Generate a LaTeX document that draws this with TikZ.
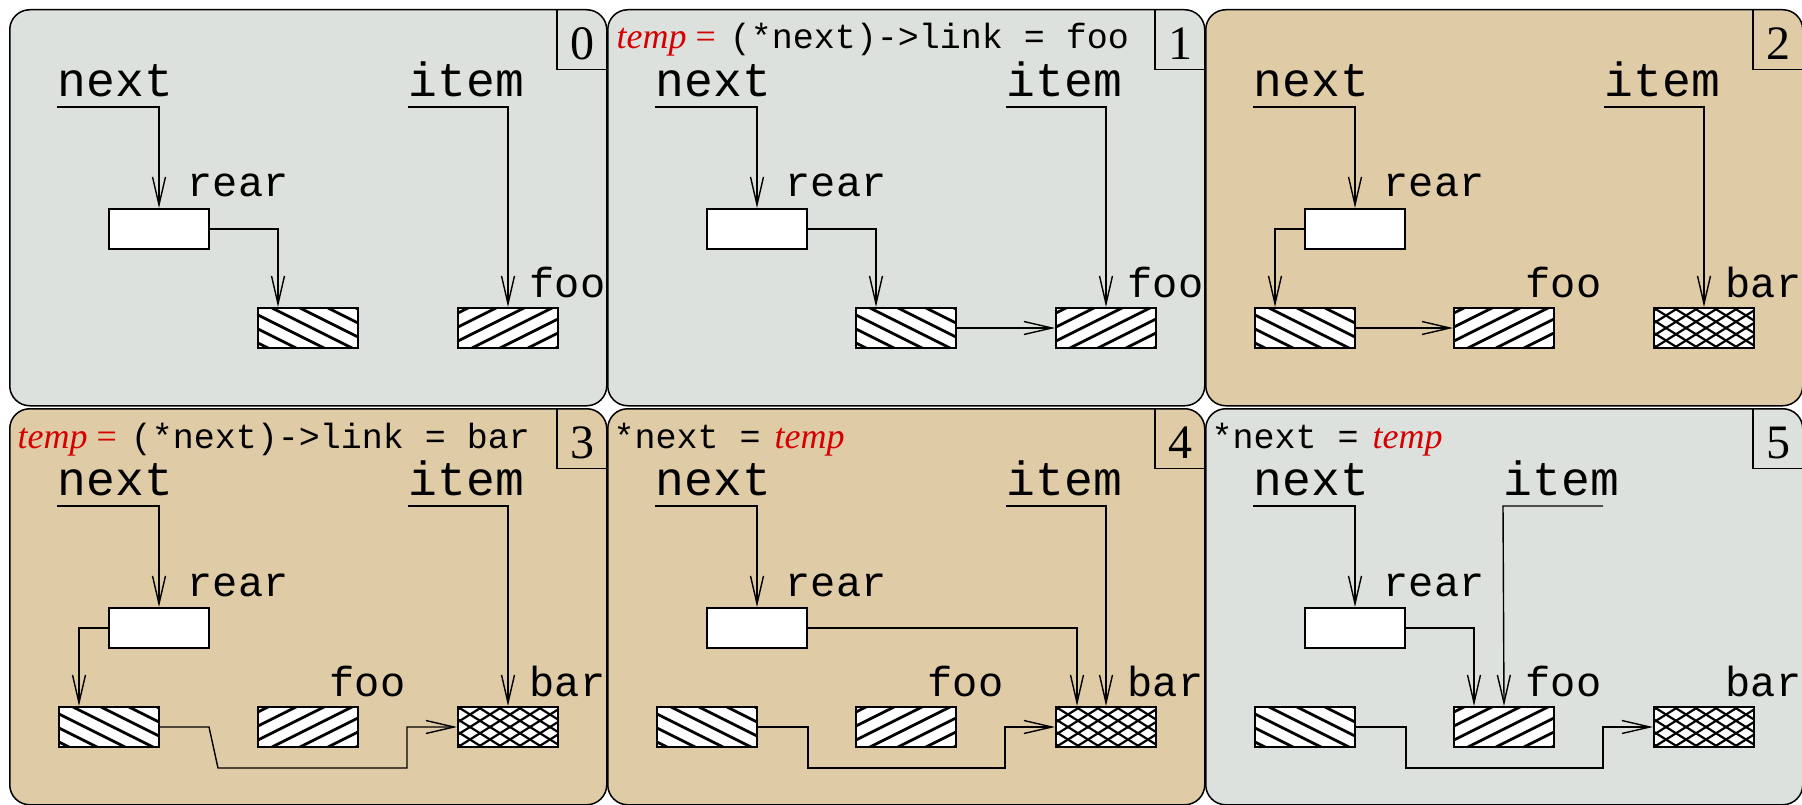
\documentclass[tikz,border=0pt]{standalone}
\usepackage{fontspec}
\setmainfont{Liberation Serif}
\setmonofont{Liberation Mono}
\usetikzlibrary{arrows.meta, positioning}

\definecolor{panelgray}{RGB}{221,225,221}
\definecolor{paneltan}{RGB}{223,203,166}
\definecolor{tempred}{RGB}{213,0,0}

\begin{document}
\begin{tikzpicture}[x=1pt, y=-1pt, >={Straight Barb[length=28pt, width=13pt]}, line width=1.4pt]
  \tikzstyle{panel}=[draw=black, line width=1.5pt, rounded corners=20pt, anchor=north west, minimum width=597pt, minimum height=396pt, inner sep=0pt]
  \tikzstyle{num}=[anchor=north east, minimum width=49pt, minimum height=59pt, inner sep=0pt, text height=41pt, text depth=0pt, font=\fontsize{48}{48}\selectfont]
  \tikzstyle{var}=[anchor=south west, inner xsep=0pt, inner ysep=9pt, font=\ttfamily\fontsize{48}{48}\selectfont]
  \tikzstyle{lbl}=[anchor=base west, inner sep=0pt, font=\ttfamily\fontsize{42}{42}\selectfont]
  \tikzstyle{code}=[anchor=base west, inner sep=0pt, font=\fontsize{35}{35}\selectfont]
  \tikzstyle{cell}=[draw=black, fill=white, line width=2pt, anchor=north west, minimum width=100pt, minimum height=40pt, inner sep=0pt]
  \tikzstyle{nwbox}=[cell, path picture={\foreach \k in {-70,-42,...,98} \draw[line width=2.8pt] ([xshift=\k pt]path picture bounding box.north west) -- ++(160pt,-80pt);}]
  \tikzstyle{nebox}=[cell, path picture={\foreach \k in {-70,-42,...,98} \draw[line width=2.8pt] ([xshift=\k pt]path picture bounding box.south west) -- ++(160pt,80pt);}]
  \tikzstyle{xbox}=[cell, path picture={\foreach \k in {-80,-60,...,100} {\draw[line width=2.2pt] ([xshift=\k pt]path picture bounding box.north west) -- ++(160pt,-100pt); \draw[line width=2.2pt] ([xshift=\k pt]path picture bounding box.south west) -- ++(160pt,100pt);}}]
  \tikzstyle{ptr}=[->, line width=1.4pt]

  \useasboundingbox (0,0) rectangle (1802,805);

  % 0
  \begin{scope}[shift={(9,9)}]
    \node[panel, fill=panelgray] (p0) at (0,0) {};
    \node[num] (n0) at (p0.north east) {0};
    \draw[line width=1.5pt] (n0.north west) |- (n0.south east);
    \node[cell] (rear0) at (99,199) {};
    \node[nwbox] (a0) at (248,298) {};
    \node[nebox] (foo0) at (448,298) {};
    \node[var] (next0) at (48,98) {next};
    \node[var] (item0) at (399,98) {item};
    \node[lbl] (rl0) at ([xshift=79pt, yshift=11pt]rear0.north west) {rear};
    \node[lbl] (fl0) at ([xshift=72pt, yshift=10pt]foo0.north west) {foo};
    \draw[ptr] (next0.south west) -| (rear0.north);
    \draw[ptr] (item0.south west) -| (foo0.north);
    \draw[ptr] (rear0.east) -| ([xshift=21pt]a0.north west);
  \end{scope}

  % 1
  \begin{scope}[shift={(607,9)}]
    \node[panel, fill=panelgray] (p1) at (0,0) {};
    \node[num] (n1) at (p1.north east) {1};
    \draw[line width=1.5pt] (n1.north west) |- (n1.south east);
    \node[code] (s1) at (9,40) {\textcolor{tempred}{\fontsize{36}{36}\selectfont\textit{temp} =}\hspace{14pt}\texttt{(*next)->link = foo}};
    \node[cell] (rear1) at (99,199) {};
    \node[nwbox] (a1) at (248,298) {};
    \node[nebox] (foo1) at (448,298) {};
    \node[var] (next1) at (48,98) {next};
    \node[var] (item1) at (399,98) {item};
    \node[lbl] (rl1) at ([xshift=79pt, yshift=11pt]rear1.north west) {rear};
    \node[lbl] (fl1) at ([xshift=72pt, yshift=10pt]foo1.north west) {foo};
    \draw[ptr] (next1.south west) -| (rear1.north);
    \draw[ptr] (item1.south west) -| (foo1.north);
    \draw[ptr] (rear1.east) -| ([xshift=21pt]a1.north west);
    \draw[ptr] (a1) -- (foo1);
  \end{scope}

  % 2
  \begin{scope}[shift={(1205,9)}]
    \node[panel, fill=paneltan] (p2) at (0,0) {};
    \node[num] (n2) at (p2.north east) {2};
    \draw[line width=1.5pt] (n2.north west) |- (n2.south east);
    \node[cell] (rear2) at (99,199) {};
    \node[nwbox] (a2) at (49,298) {};
    \node[nebox] (foo2) at (248,298) {};
    \node[xbox] (bar2) at (448,298) {};
    \node[var] (next2) at (48,98) {next};
    \node[var] (item2) at (399,98) {item};
    \node[lbl] (rl2) at ([xshift=79pt, yshift=11pt]rear2.north west) {rear};
    \node[lbl] (fl2) at ([xshift=72pt, yshift=10pt]foo2.north west) {foo};
    \node[lbl] (bl2) at ([xshift=72pt, yshift=10pt]bar2.north west) {bar};
    \draw[ptr] (next2.south west) -| (rear2.north);
    \draw[ptr] (item2.south west) -| (bar2.north);
    \draw[ptr] (rear2.west) -| ([xshift=21pt]a2.north west);
    \draw[ptr] (a2) -- (foo2);
  \end{scope}

  % 3
  \begin{scope}[shift={(9,408)}]
    \node[panel, fill=paneltan] (p3) at (0,0) {};
    \node[num] (n3) at (p3.north east) {3};
    \draw[line width=1.5pt] (n3.north west) |- (n3.south east);
    \node[code] (s3) at (8,40) {\textcolor{tempred}{\fontsize{36}{36}\selectfont\textit{temp} =}\hspace{14pt}\texttt{(*next)->link = bar}};
    \node[cell] (rear3) at (99,199) {};
    \node[nwbox] (a3) at (49,298) {};
    \node[nebox] (foo3) at (248,298) {};
    \node[xbox] (bar3) at (448,298) {};
    \node[var] (next3) at (48,98) {next};
    \node[var] (item3) at (399,98) {item};
    \node[lbl] (rl3) at ([xshift=79pt, yshift=11pt]rear3.north west) {rear};
    \node[lbl] (fl3) at ([xshift=72pt, yshift=10pt]foo3.north west) {foo};
    \node[lbl] (bl3) at ([xshift=72pt, yshift=10pt]bar3.north west) {bar};
    \draw[ptr] (next3.south west) -| (rear3.north);
    \draw[ptr] (item3.south west) -| (bar3.north);
    \draw[ptr] (rear3.west) -| ([xshift=21pt]a3.north west);
    \draw[ptr] (a3.east) -- ++(49,0) -- ++(9,41) -| ([xshift=-50pt]bar3.west) -- (bar3.west);
  \end{scope}

  % 4
  \begin{scope}[shift={(607,408)}]
    \node[panel, fill=paneltan] (p4) at (0,0) {};
    \node[num] (n4) at (p4.north east) {4};
    \draw[line width=1.5pt] (n4.north west) |- (n4.south east);
    \node[code] (s4) at (6,40) {\texttt{*next =}\hspace{14pt}\textcolor{tempred}{\fontsize{36}{36}\selectfont\textit{temp}}};
    \node[cell] (rear4) at (99,199) {};
    \node[nwbox] (a4) at (49,298) {};
    \node[nebox] (foo4) at (248,298) {};
    \node[xbox] (bar4) at (448,298) {};
    \node[var] (next4) at (48,98) {next};
    \node[var] (item4) at (399,98) {item};
    \node[lbl] (rl4) at ([xshift=79pt, yshift=11pt]rear4.north west) {rear};
    \node[lbl] (fl4) at ([xshift=72pt, yshift=10pt]foo4.north west) {foo};
    \node[lbl] (bl4) at ([xshift=72pt, yshift=10pt]bar4.north west) {bar};
    \draw[ptr] (next4.south west) -| (rear4.north);
    \draw[ptr] (item4.south west) -| (bar4.north);
    \draw[ptr] (rear4.east) -| ([xshift=22pt]bar4.north west);
    \draw[ptr] (a4.east) -- ++(50,0) -- ++(0,41) -| ([xshift=-50pt]bar4.west) -- (bar4.west);
  \end{scope}

  % 5
  \begin{scope}[shift={(1205,408)}]
    \node[panel, fill=panelgray] (p5) at (0,0) {};
    \node[num] (n5) at (p5.north east) {5};
    \draw[line width=1.5pt] (n5.north west) |- (n5.south east);
    \node[code] (s5) at (6,40) {\texttt{*next =}\hspace{14pt}\textcolor{tempred}{\fontsize{36}{36}\selectfont\textit{temp}}};
    \node[cell] (rear5) at (99,199) {};
    \node[nwbox] (a5) at (49,298) {};
    \node[nebox] (foo5) at (248,298) {};
    \node[xbox] (bar5) at (448,298) {};
    \node[var] (next5) at (48,98) {next};
    \node[var] (item5) at (298,98) {item};
    \node[lbl] (rl5) at ([xshift=79pt, yshift=11pt]rear5.north west) {rear};
    \node[lbl] (fl5) at ([xshift=72pt, yshift=10pt]foo5.north west) {foo};
    \node[lbl] (bl5) at ([xshift=72pt, yshift=10pt]bar5.north west) {bar};
    \draw[ptr] (next5.south west) -| (rear5.north);
    \draw[ptr] ([xshift=100pt]item5.south west) -- (item5.south west) -- (foo5.north);
    \draw[ptr] (rear5.east) -| ([xshift=21pt]foo5.north west);
    \draw[ptr] (a5.east) -- ++(50,0) -- ++(0,41) -| ([xshift=-50pt]bar5.west) -- (bar5.west);
  \end{scope}
\end{tikzpicture}
\end{document}
